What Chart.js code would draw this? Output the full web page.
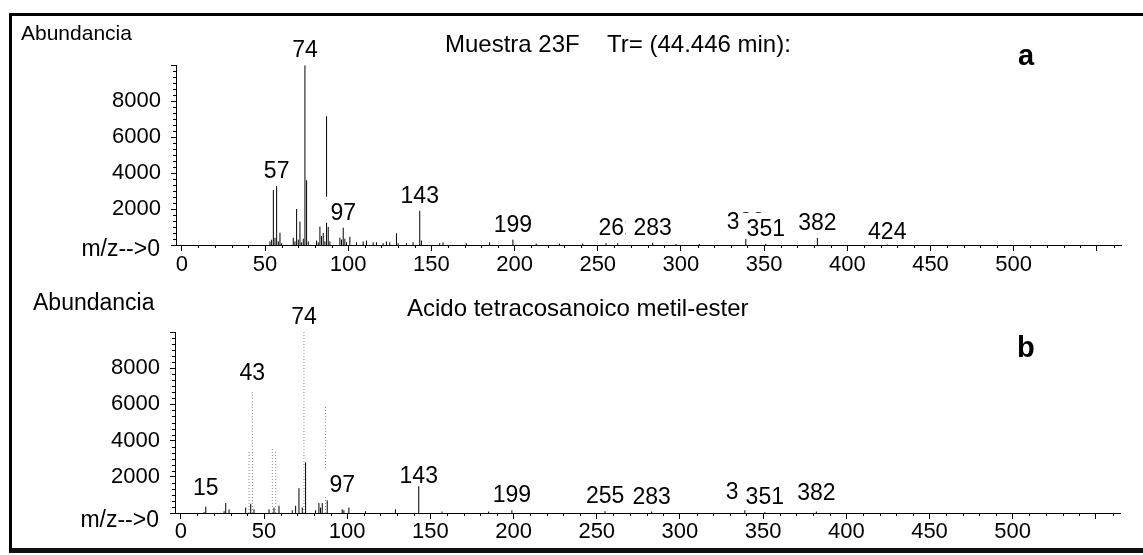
<!DOCTYPE html>
<html>
<head>
<meta charset="utf-8">
<script src="https://cdn.jsdelivr.net/npm/chart.js@4.4.1/dist/chart.umd.min.js"></script>
<style>
  html, body { margin: 0; padding: 0; background: #fff; }
  #page { position: relative; width: 1143px; height: 555px; overflow: hidden; }
  #frame {
    position: absolute; left: 9px; top: 13px; width: 1134px; height: 540px;
    box-sizing: border-box;
    border-left: 3px solid #000; border-top: 3px solid #000; border-bottom: 5px solid #111;
  }
  canvas { position: absolute; left: 0; }
  #specA { top: 0; }
  #specB { top: 280px; }
</style>
</head>
<body>
<div id="page">
  <canvas id="specA" width="1143" height="280"></canvas>
  <canvas id="specB" width="1143" height="275"></canvas>
  <div id="frame"></div>
</div>
<script>
// ---- spectrum a: sample 23F ----
const mzA = [53, 54, 55, 56, 57, 58, 59, 60, 67, 68, 69, 70, 71, 72, 73, 74, 75, 76,
             81, 82, 83, 84, 85, 86, 87, 88, 89, 95, 96, 97, 98, 99,
             101, 105, 109, 111, 115, 117, 121, 123, 125, 129, 130, 135, 139,
             143, 144, 155, 157, 171, 185, 199, 213, 227, 241, 255, 262, 283, 297, 311,
             339, 351, 382, 424];
const abA = [200, 300, 3050, 400, 3280, 200, 680, 100, 400, 200, 2000, 300, 1300, 150, 350, 9980, 3600, 200,
             250, 150, 1020, 500, 670, 200, 7150, 1000, 200, 400, 300, 960, 350, 150,
             460, 150, 200, 250, 150, 150, 100, 200, 150, 650, 100, 100, 150,
             1900, 250, 100, 150, 100, 150, 300, 80, 80, 80, 100, 100, 120, 60, 60,
             450, 60, 400, 30];
const labelsA = [57, 74, 97, 143, 199, 262, 283, 339, 351, 382, 424];

// ---- spectrum b: library, tetracosanoic acid methyl ester ----
const mzB = [14, 15, 26, 27, 29, 39, 41, 42, 43, 44, 53, 55, 56, 57, 59,
             67, 69, 71, 73, 74, 75, 81, 83, 84, 85, 87, 88,
             97, 98, 101, 111, 129, 143, 157, 185, 199, 255, 283, 339, 351, 382];
const abB = [50, 350, 100, 550, 200, 300, 3400, 500, 6800, 200, 200, 3650, 300, 3450, 400,
             150, 400, 1370, 300, 10000, 2800, 150, 550, 300, 550, 5860, 700,
             200, 150, 300, 100, 200, 1650, 80, 80, 150, 100, 80, 150, 50, 80];
const labelsB = [15, 43, 74, 97, 143, 199, 255, 283, 339, 351, 382];
const dottedB = [41, 43, 55, 57, 74, 87];

const yMax = 10000;
const xLastLabel = 500;

const FACE = '"Liberation Sans", Arial, Helvetica, sans-serif';
Chart.defaults.font.family = FACE;
Chart.defaults.color = '#000';

// one vertical stick per ion, gaps between them
function sticks(mz, ab, keep) {
  const pts = [];
  mz.forEach((m, i) => {
    if (!keep(m)) return;
    pts.push({ x: m, y: 0 }, { x: m, y: ab[i] }, { x: m, y: null });
  });
  return pts;
}

const panels = {
  specA: {
    mz: mzA, ab: abA, labels: labelsA, gaps: { 424: 5 },
    zeroDrop: 11,
    texts: [
      { text: 'Abundancia', x: 21, y: 40, font: '21px ' + FACE },
      { text: 'Muestra 23F', x: 445, y: 52, font: '24px ' + FACE },
      { text: 'Tr= (44.446 min):', x: 607, y: 52, font: '24px ' + FACE },
      { text: 'a', x: 1018, y: 65, font: 'bold 29px ' + FACE }
    ]
  },
  specB: {
    mz: mzB, ab: abB, labels: labelsB, gaps: { 15: 12, 43: 10, 97: 17, 143: 0, 339: 11, 382: 12 },
    zeroDrop: 14,
    texts: [
      { text: 'Abundancia', x: 33, y: 30, font: '23px ' + FACE },
      { text: 'Acido tetracosanoico metil-ester', x: 407, y: 36, font: '24px ' + FACE },
      { text: 'b', x: 1017, y: 77, font: 'bold 29px ' + FACE }
    ]
  }
};

const annotate = {
  id: 'annotate',
  afterDatasetsDraw(chart) {
    const p = panels[chart.canvas.id];
    const { ctx } = chart;
    const xs = chart.scales.x, ys = chart.scales.y;
    ctx.save();

    // minor ticks: every 10 on m/z, six per 2000 on abundance
    ctx.strokeStyle = '#000';
    ctx.lineWidth = 1;
    ctx.beginPath();
    for (let v = 10; v < xs.max; v += 10) {
      if (v % 50 === 0) continue;
      const px = Math.round(xs.getPixelForValue(v)) + 0.5;
      ctx.moveTo(px, ys.bottom);
      ctx.lineTo(px, ys.bottom + 3);
    }
    for (let i = 1; i * 2000 / 6 <= yMax; i++) {
      if (i % 6 === 0) continue;
      const py = Math.round(ys.getPixelForValue(i * 2000 / 6)) + 0.5;
      ctx.moveTo(xs.left - 3, py);
      ctx.lineTo(xs.left, py);
    }
    ctx.stroke();

    // peak labels sit on white boxes; later ones cover earlier ones
    ctx.font = '23px ' + FACE;
    ctx.textAlign = 'center';
    ctx.textBaseline = 'alphabetic';
    p.labels.forEach(m => {
      const i = p.mz.indexOf(m);
      const cx = xs.getPixelForValue(m);
      const base = ys.getPixelForValue(p.ab[i]) - (p.gaps[m] ?? 8);
      const w = ctx.measureText(String(m)).width;
      ctx.fillStyle = '#fff';
      ctx.fillRect(cx - w / 2 - 8, base - 23, w + 16, 26);
      ctx.fillStyle = '#000';
      ctx.fillText(String(m), cx, base);
    });

    // zero of the abundance axis doubles as the m/z axis caption
    ctx.textAlign = 'right';
    ctx.fillText('m/z-->0', xs.left - 16, ys.getPixelForValue(0) + p.zeroDrop);

    ctx.textAlign = 'left';
    p.texts.forEach(t => {
      ctx.font = t.font;
      ctx.fillText(t.text, t.x, t.y);
    });
    ctx.restore();
  }
};

function spectrum(id, datasets, lay) {
  return new Chart(document.getElementById(id), {
    type: 'line',
    data: { datasets },
    options: {
      responsive: false,
      animation: false,
      devicePixelRatio: 1,
      layout: { padding: { left: 0, right: lay.right, top: lay.top, bottom: 0 } },
      elements: { point: { radius: 0 }, line: { tension: 0, borderWidth: 1 } },
      plugins: { legend: { display: false }, tooltip: { enabled: false } },
      scales: {
        x: {
          type: 'linear', min: -3.5, max: 564.5,
          afterFit: s => { s.height = lay.xHeight; },
          border: { color: '#000', width: 1 },
          grid: { drawOnChartArea: false, tickLength: 6, color: '#000' },
          ticks: {
            stepSize: 50, includeBounds: false, autoSkip: false, maxRotation: 0,
            padding: lay.xPad, font: { size: 22 },
            callback: v => (v <= xLastLabel ? String(v) : '')
          }
        },
        y: {
          min: 0, max: yMax,
          afterFit: s => { s.width = lay.yWidth; },
          border: { color: '#000', width: 1 },
          grid: { drawOnChartArea: false, tickLength: 5, color: '#000' },
          ticks: {
            stepSize: 2000, autoSkip: false, padding: 10, font: { size: 22 },
            callback: v => (v > 0 && v < yMax ? String(v) : '')
          }
        }
      }
    },
    plugins: [annotate]
  });
}

spectrum('specA', [{
  data: sticks(mzA, abA, () => true),
  borderColor: '#000'
}], { top: 65, right: 22, xHeight: 35, yWidth: 176, xPad: 1 });

spectrum('specB', [{
  data: sticks(mzB, abB, m => !dottedB.includes(m)),
  borderColor: '#000'
}, {
  data: sticks(mzB, abB, m => dottedB.includes(m)),
  borderColor: '#8c8c8c',
  borderDash: [1, 2]
}], { top: 52, right: 23, xHeight: 42, yWidth: 175, xPad: 0 });
</script>
</body>
</html>
